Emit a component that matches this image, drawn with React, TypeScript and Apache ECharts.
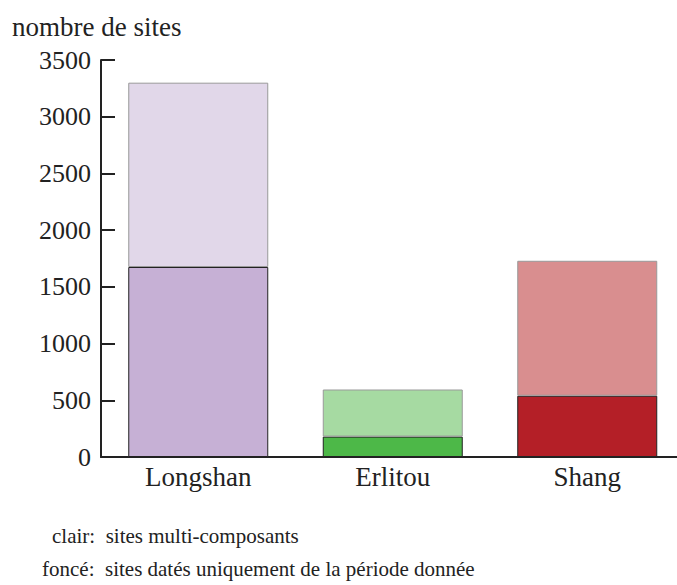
import React, { useEffect, useRef } from "react";
import * as echarts from "echarts";

const categories = ["Longshan", "Erlitou", "Shang"];
// sites datés uniquement de la période donnée (foncé)
const darkValues = [1675, 180, 540];
// sites multi-composants (clair), empilés au-dessus
const lightValues = [1625, 415, 1190];
const darkColors = ["#c6b0d5", "#4db848", "#b41f27"];
const lightColors = ["#e1d7e9", "#a6daa2", "#d98e8f"];
const yTicks = [0, 500, 1000, 1500, 2000, 2500, 3000, 3500];
const yAxisTitle = "nombre de sites";
const legendLines = [
  "clair:  sites multi-composants",
  "foncé:  sites datés uniquement de la période donnée",
];

const FONT = "Liberation Serif";

export default function App() {
  const ref = useRef<HTMLDivElement>(null);
  useEffect(() => {
    document.body.style.margin = "0";
    if (!ref.current) return;
    const chart = echarts.init(ref.current, null, { renderer: "svg" });
    chart.setOption({
      animation: false,
      textStyle: { fontFamily: FONT },
      grid: { left: 101, top: 60, width: 583.5, bottom: 128, containLabel: false },
      xAxis: {
        type: "category",
        data: categories,
        axisLine: { lineStyle: { color: "#222", width: 2 } },
        axisTick: { inside: true, length: 9, lineStyle: { color: "#222", width: 2 } },
        axisLabel: { color: "#222", fontFamily: FONT, fontSize: 27, margin: 6 },
      },
      yAxis: {
        type: "value",
        min: yTicks[0],
        max: yTicks[yTicks.length - 1],
        interval: 500,
        axisLine: { show: true, lineStyle: { color: "#222", width: 2 } },
        axisTick: { show: true, inside: true, length: 14, lineStyle: { color: "#222", width: 2 } },
        axisLabel: {
          color: "#222",
          fontFamily: FONT,
          fontSize: 26,
          margin: 10,
          formatter: (v: number) => String(v),
        },
        splitLine: { show: false },
      },
      series: [
        {
          type: "bar",
          stack: "s",
          barWidth: 140,
          data: darkValues.map((v, i) => ({
            value: v,
            itemStyle: { color: darkColors[i], borderColor: "#222", borderWidth: 1 },
          })),
        },
        {
          type: "bar",
          stack: "s",
          barWidth: 140,
          data: lightValues.map((v, i) => ({
            value: v,
            itemStyle: { color: lightColors[i], borderColor: "#999", borderWidth: 1 },
          })),
        },
      ],
      graphic: [
        {
          type: "text",
          left: 12,
          top: 13,
          style: { text: yAxisTitle, fontFamily: FONT, fontSize: 27, fill: "#222" },
        },
        {
          type: "text",
          left: 52,
          top: 525,
          style: { text: legendLines[0], fontFamily: FONT, fontSize: 21, fill: "#222" },
        },
        {
          type: "text",
          left: 42,
          top: 558,
          style: { text: legendLines[1], fontFamily: FONT, fontSize: 21, fill: "#222" },
        },
      ],
    });
    return () => chart.dispose();
  }, []);
  return (
    <div style={{ width: 677, height: 585, overflow: "hidden" }}>
      <div ref={ref} style={{ width: 700, height: 585 }} />
    </div>
  );
}
